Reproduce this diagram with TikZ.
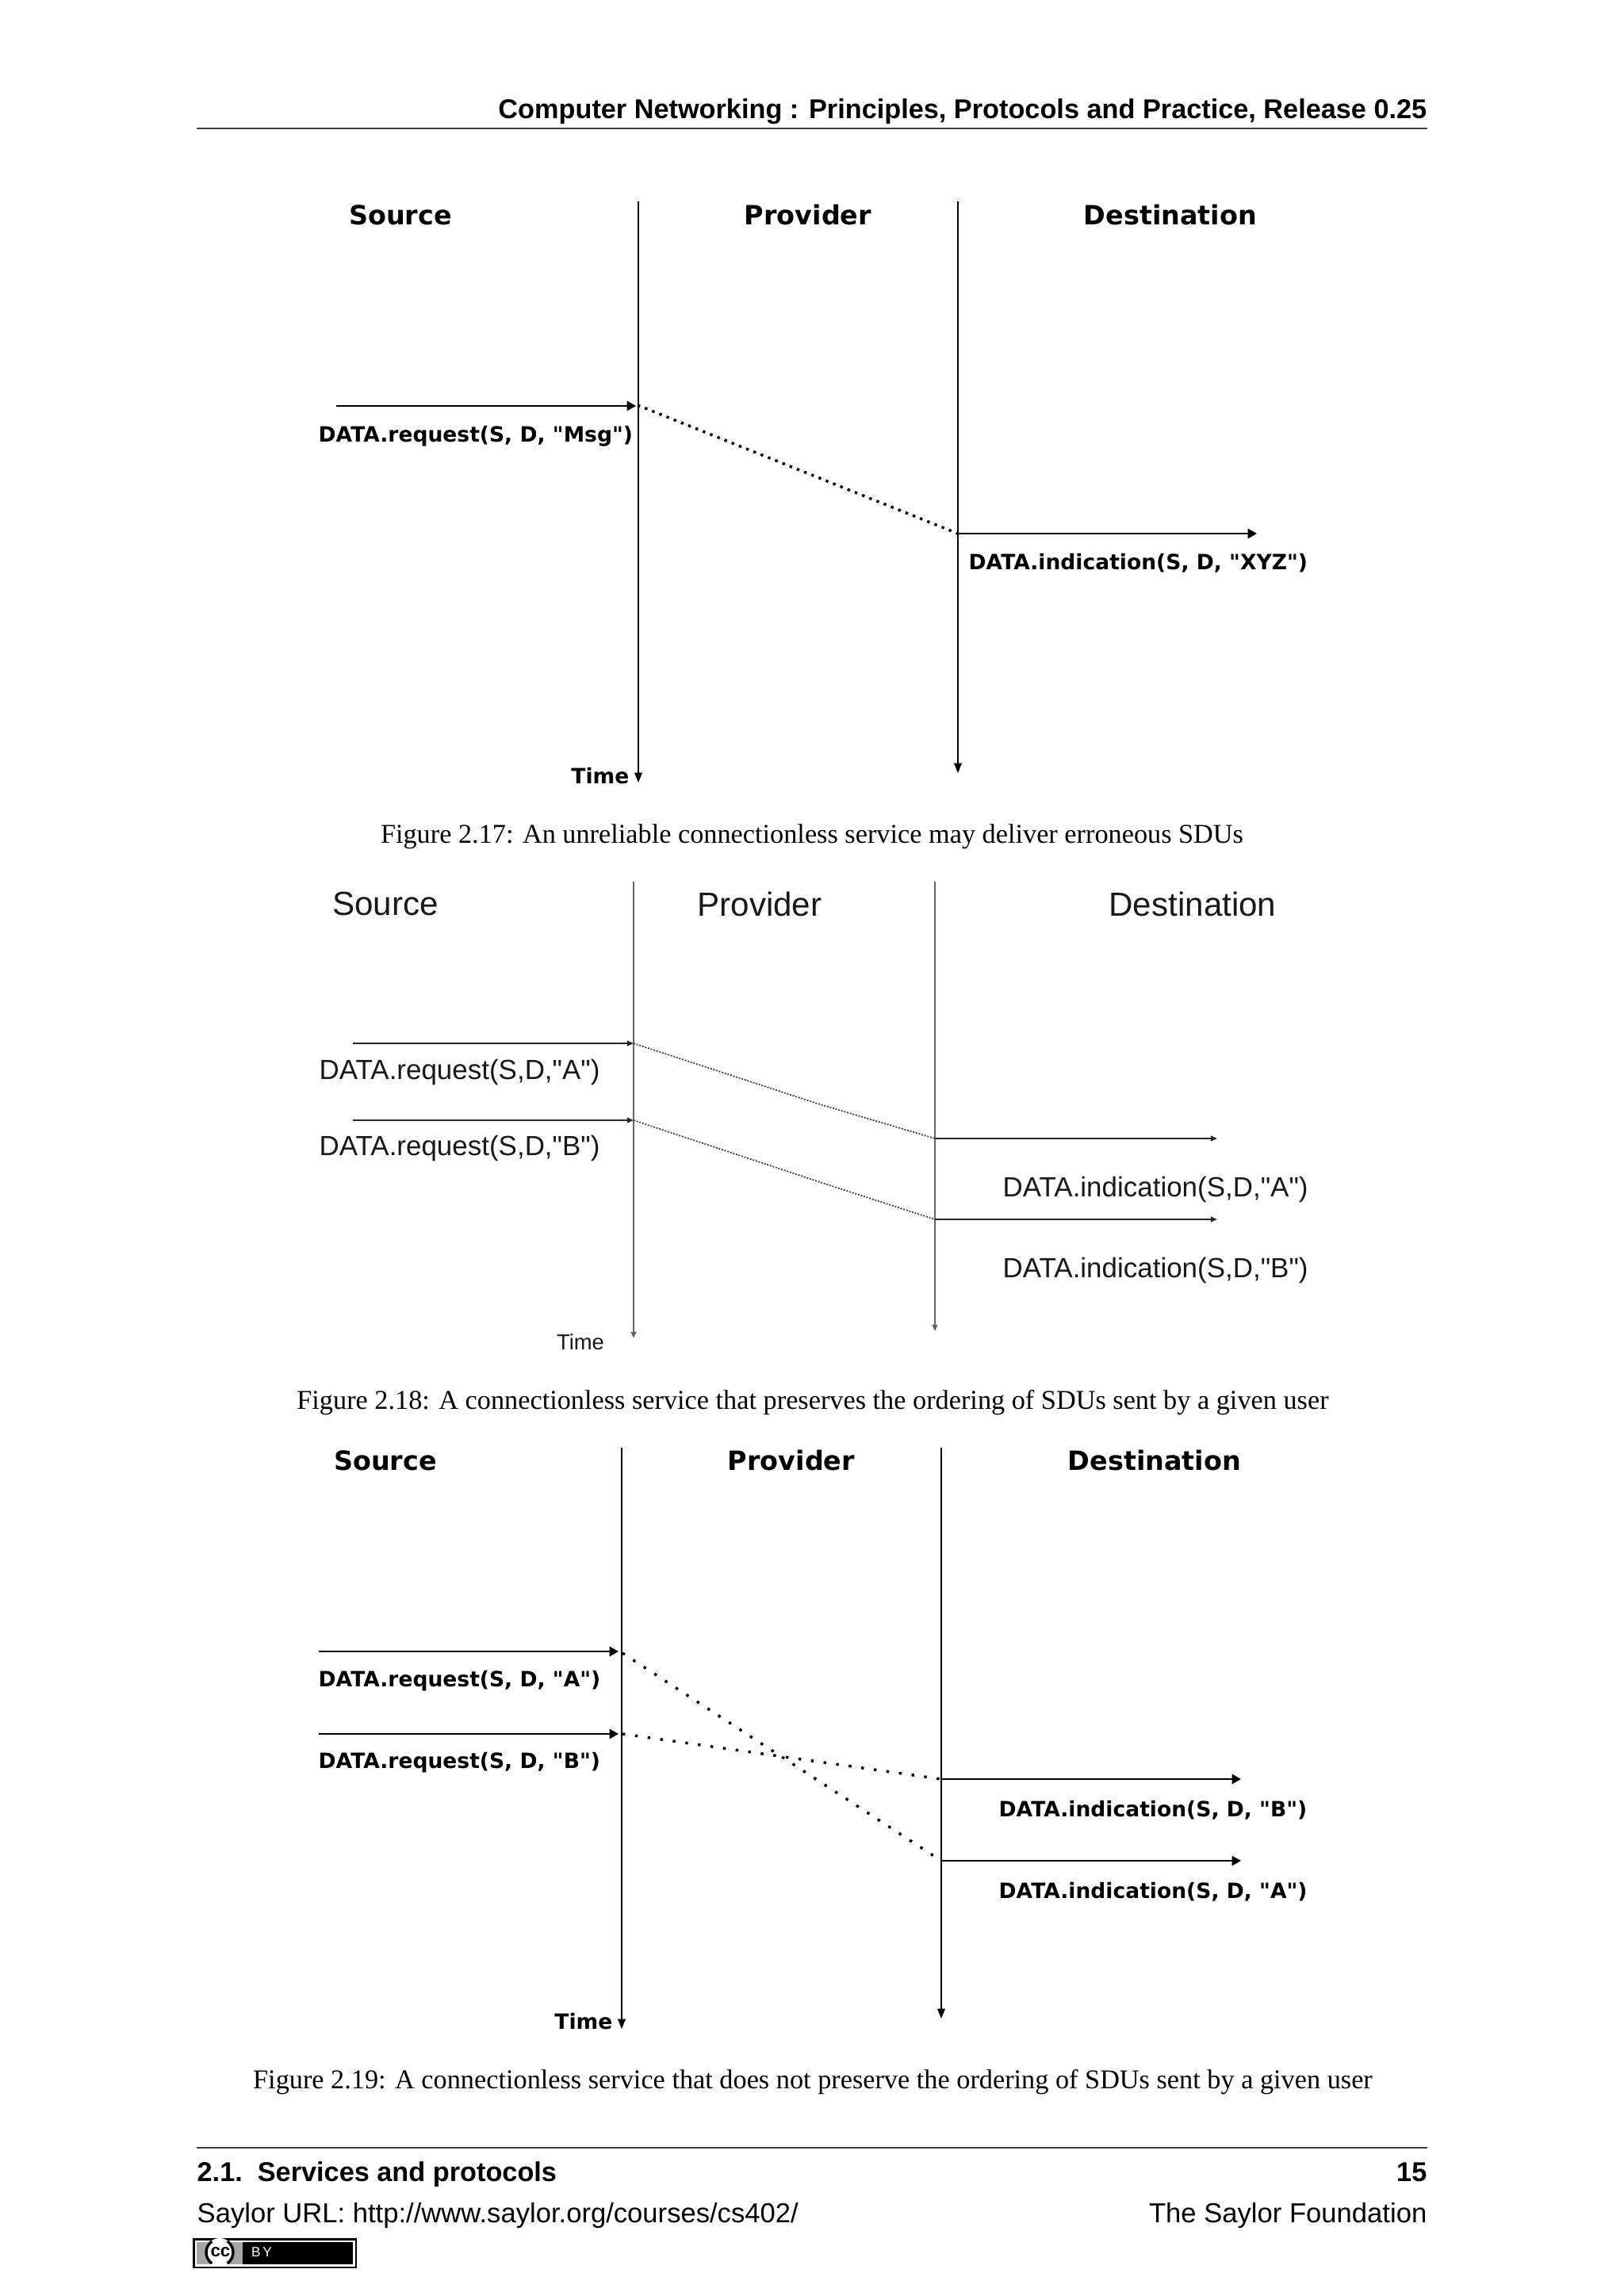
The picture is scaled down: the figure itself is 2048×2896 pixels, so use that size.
\documentclass[tikz,border=0pt]{standalone}
\usepackage{fontspec}
\setmainfont{Liberation Sans}
\newfontfamily\plainfont{Liberation Sans}
\newfontfamily\capfont{Liberation Serif}
\newfontfamily\figfont{DejaVu Sans}
\usetikzlibrary{arrows.meta}

\begin{document}
\begin{tikzpicture}[x=0.10254mm, y=-0.10254mm, every node/.style={inner sep=0pt},
  title/.style={font=\figfont\bfseries\fontsize{9.75}{12}\selectfont},
  label/.style={font=\figfont\bfseries\fontsize{7.75}{9}\selectfont},
  plaintitle/.style={font=\plainfont\fontsize{12.3}{14}\selectfont, text=black!90},
  plainlabel/.style={font=\plainfont\fontsize{10.2}{12}\selectfont, text=black!90},
  caption/.style={font=\capfont\fontsize{10}{12}\selectfont},
  axis/.style={line width=0.5pt, -{Triangle[length=3.6pt,width=2.8pt]}},
  msg/.style={line width=0.6pt, -{Triangle[length=3.3pt,width=3.6pt]}},
  dots/.style={line width=1pt, dash pattern=on 1pt off #1},
  plainaxis/.style={line width=0.8pt, black!60, -{Triangle[length=2.4pt,width=2pt]}},
  plainmsg/.style={line width=0.55pt, black!85, -{Triangle[length=2.4pt,width=2pt]}},
  plaindots/.style={line width=0.5pt, black!75, dash pattern=on 0.6pt off 0.5pt},
  rule/.style={line width=0.4pt, black!75}]

\useasboundingbox (0,0) rectangle (2048,2896);

% Page header.

\node[anchor=base east, font=\bfseries\fontsize{10}{12}\selectfont] (head) at (1800,149) {Computer Networking : Principles, Protocols and Practice, Release 0.25};
\coordinate (headl) at (248,162);
\coordinate (headr) at (1800,162);
\draw[rule] (headl) -- (headr);

% First figure, the erroneous delivery.

\node[title] (src1) at (505,271) {Source};
\node[title] (prov1) at (1019,271) {Provider};
\node[title] (dest1) at (1476,271) {Destination};

\coordinate (a1top) at (805,254);
\coordinate (a1bot) at (805,987);
\coordinate (b1top) at (1208,254);
\coordinate (b1bot) at (1208,975);
\draw[axis] (a1top) -- (a1bot);
\draw[axis] (b1top) -- (b1bot);

\coordinate (req1) at (424,512);
\coordinate (a1s) at (802,512);
\coordinate (a1m) at (804,511);
\coordinate (b1m) at (1208,673);
\coordinate (ind1) at (1585,673);
\draw[msg] (req1) -- (a1s);
\draw[dots=1.87pt] (a1m) -- (b1m);
\draw[msg] (b1m) -- (ind1);

\node[label, anchor=west] (reqlab1) at (401,550) {DATA.request(S, D, "Msg")};
\node[label, anchor=west] (indlab1) at (1221,710) {DATA.indication(S, D, "XYZ")};
\node[label, anchor=east] (time1) at (794,979) {Time};

\node[caption] (cap1) at (1024,1055) {Figure 2.17: An unreliable connectionless service may deliver erroneous SDUs};

% Second figure, the order is kept.

\node[plaintitle] (src2) at (486,1140) {Source};
\node[plaintitle] (prov2) at (958,1140) {Provider};
\node[plaintitle] (dest2) at (1504,1140) {Destination};

\coordinate (a2top) at (799,1112);
\coordinate (a2bot) at (799,1688);
\coordinate (b2top) at (1179,1112);
\coordinate (b2bot) at (1179,1679);
\draw[plainaxis] (a2top) -- (a2bot);
\draw[plainaxis] (b2top) -- (b2bot);

\coordinate (req2a) at (445,1316);
\coordinate (req2b) at (445,1413);
\coordinate (a2a) at (799,1316);
\coordinate (a2b) at (799,1413);
\coordinate (mid2a) at (1031,1392);
\coordinate (mid2b) at (1040,1493);
\coordinate (b2a) at (1179,1436);
\coordinate (b2b) at (1179,1538);
\coordinate (ind2a) at (1535,1436);
\coordinate (ind2b) at (1535,1538);

\draw[plainmsg] (req2a) -- (a2a);
\draw[plainmsg] (req2b) -- (a2b);
\draw[plaindots] (a2a) -- (mid2a) -- (b2a);
\draw[plaindots] (a2b) -- (mid2b) -- (b2b);
\draw[plainmsg] (b2a) -- (ind2a);
\draw[plainmsg] (b2b) -- (ind2b);

\node[plainlabel, anchor=west] (reqlab2a) at (402,1352) {DATA.request(S,D,"A")};
\node[plainlabel, anchor=west] (reqlab2b) at (402,1448) {DATA.request(S,D,"B")};
\node[plainlabel, anchor=west] (indlab2a) at (1264,1500) {DATA.indication(S,D,"A")};
\node[plainlabel, anchor=west] (indlab2b) at (1264,1602) {DATA.indication(S,D,"B")};
\node[plainlabel, font=\plainfont\fontsize{8}{10}\selectfont] (time2) at (732,1693) {Time};

\node[caption] (cap2) at (1025,1769) {Figure 2.18: A connectionless service that preserves the ordering of SDUs sent by a given user};

% Third figure, the order is lost.

\node[title] (src3) at (486,1842) {Source};
\node[title] (prov3) at (998,1842) {Provider};
\node[title] (dest3) at (1456,1842) {Destination};

\coordinate (a3top) at (784,1826);
\coordinate (a3bot) at (784,2559);
\coordinate (b3top) at (1187,1826);
\coordinate (b3bot) at (1187,2546);
\draw[axis] (a3top) -- (a3bot);
\draw[axis] (b3top) -- (b3bot);

\coordinate (req3a) at (402,2083);
\coordinate (req3b) at (402,2187);
\coordinate (a3as) at (780,2083);
\coordinate (a3bs) at (780,2187);
\coordinate (a3a) at (785,2085);
\coordinate (a3b) at (785,2187);
\coordinate (b3a) at (1187,2347);
\coordinate (b3b) at (1187,2244);
\coordinate (ind3a) at (1565,2347);
\coordinate (ind3b) at (1565,2244);

\draw[msg] (req3a) -- (a3as);
\draw[msg] (req3b) -- (a3bs);
\draw[dots=3.67pt] (a3a) -- (b3a);
\draw[dots=3.67pt] (a3b) -- (b3b);
\draw[msg] (b3a) -- (ind3a);
\draw[msg] (b3b) -- (ind3b);

\node[label, anchor=west] (reqlab3a) at (401,2120) {DATA.request(S, D, "A")};
\node[label, anchor=west] (reqlab3b) at (401,2223) {DATA.request(S, D, "B")};
\node[label, anchor=west] (indlab3b) at (1259,2283) {DATA.indication(S, D, "B")};
\node[label, anchor=west] (indlab3a) at (1259,2386) {DATA.indication(S, D, "A")};
\node[label, anchor=east] (time3) at (773,2550) {Time};

\node[caption] (cap3) at (1025,2626) {Figure 2.19: A connectionless service that does not preserve the ordering of SDUs sent by a given user};

% Page footer.

\coordinate (footl) at (248,2709);
\coordinate (footr) at (1800,2709);
\draw[rule] (footl) -- (footr);

\node[anchor=base west, font=\bfseries\fontsize{10}{12}\selectfont] (sect) at (248,2751) {2.1.\ \ Services and protocols};
\node[anchor=base east, font=\bfseries\fontsize{10}{12}\selectfont] (page) at (1800,2751) {15};
\node[anchor=base west, font=\fontsize{10.1}{12}\selectfont] (url) at (248,2803) {Saylor URL: http://www.saylor.org/courses/cs402/};
\node[anchor=base east, font=\fontsize{10.1}{12}\selectfont] (found) at (1800,2803) {The Saylor Foundation};

% Licence badge.

\fill[black] (243,2823) rectangle (450,2861);
\fill[white] (245.5,2825.5) rectangle (447.5,2858.5);
\fill[black] (248,2828) rectangle (445,2856);
\fill[black!35] (248,2828) rectangle (306,2856);
\fill[white] (277,2841) circle (18);
\draw[line width=1pt] (277,2841) ++(125:17) arc[start angle=125, end angle=235, radius=17];
\draw[line width=1pt] (277,2841) ++(55:17) arc[start angle=55, end angle=-55, radius=17];
\node[font=\bfseries\fontsize{6.5}{7}\selectfont] (cc) at (278,2841) {cc};
\node[text=white, font=\fontsize{5}{6}\selectfont] (by) at (330,2841) {B\,Y};

\end{tikzpicture}
\end{document}
